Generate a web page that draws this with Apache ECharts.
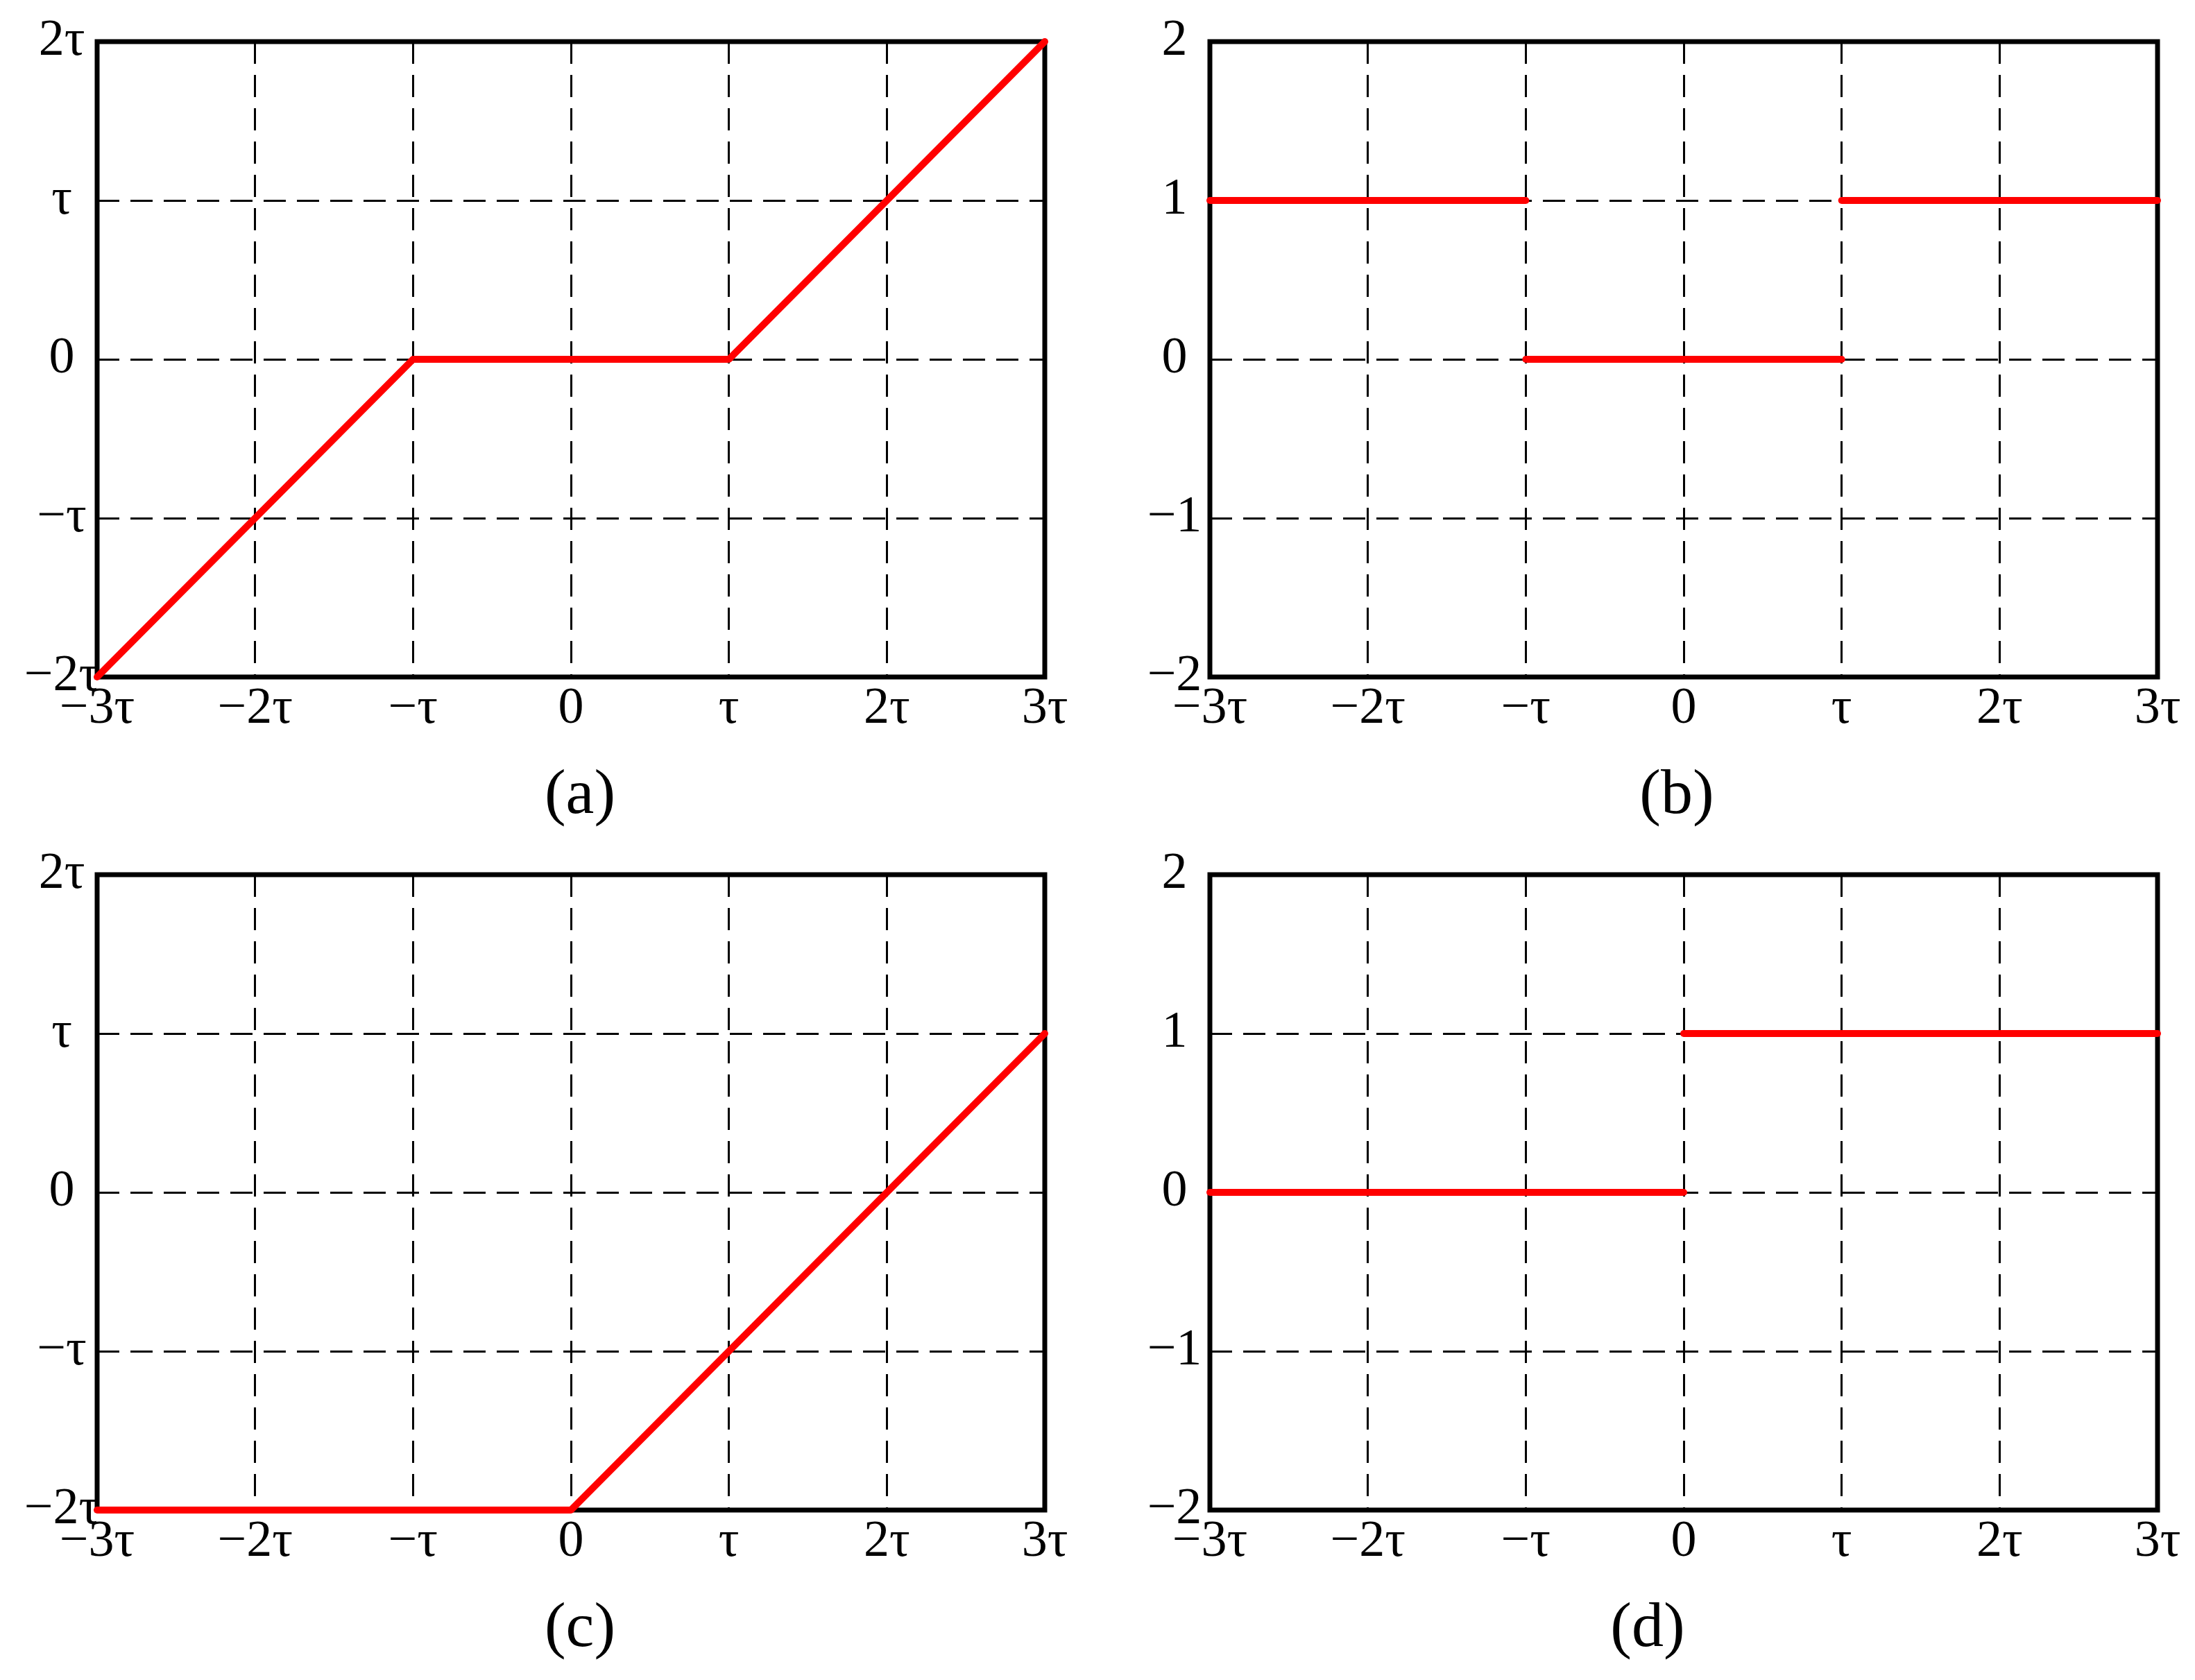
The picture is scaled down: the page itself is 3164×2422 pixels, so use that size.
<!DOCTYPE html>
<html>
<head>
<meta charset="utf-8">
<script src="https://cdn.jsdelivr.net/npm/echarts@6/dist/echarts.min.js"></script>
<style>
	html, body { margin: 0; padding: 0; background: #fff; }
	#chart { width: 3164px; height: 2422px; }
</style>
</head>
<body>
<div id="chart"></div>
<script>
	// tick labels (x in units of tau)
	var xTicks = ['\u22123\u03c4', '\u22122\u03c4', '\u2212\u03c4', '0', '\u03c4', '2\u03c4', '3\u03c4'];
	var yTicksTau = ['\u22122\u03c4', '\u2212\u03c4', '0', '\u03c4', '2\u03c4'];
	var yTicksNum = ['\u22122', '\u22121', '0', '1', '2'];
	var panelNames = ['(a)', '(b)', '(c)', '(d)'];

	// curves, [x, y] in units of tau (b, d are plain numbers on y)
	var curveA = [[-3, -2], [-1, 0], [1, 0], [3, 2]];
	var segmentsB = [
		[[-3, 1], [-1, 1]],
		[[-1, 0], [1, 0]],
		[[1, 1], [3, 1]]
	];
	var curveC = [[-3, -2], [0, -2], [3, 1]];
	var segmentsD = [
		[[-3, 0], [0, 0]],
		[[0, 1], [3, 1]]
	];

	var FONT = 'Liberation Serif';
	var gridPos = [
		{ left: 140, top: 60 },
		{ left: 1744, top: 60 },
		{ left: 140, top: 1261 },
		{ left: 1744, top: 1261 }
	];
	var labelPos = [[836, 1148], [2417, 1148], [836, 2349], [2375, 2349]];

	var myChart = echarts.init(document.getElementById('chart'));

	var grids = [], xAxes = [], yAxes = [], series = [], graphics = [];

	var splitStyle = {
		show: true,
		lineStyle: { color: '#000', width: 3, type: [32, 16] }
	};

	gridPos.forEach(function(p, i) {
		grids.push({
			left: p.left, top: p.top, width: 1366, height: 916,
			show: true, borderColor: '#000', borderWidth: 7
		});
		xAxes.push({
			type: 'value', gridIndex: i, min: -3, max: 3, interval: 1,
			axisLine: { show: false }, axisTick: { show: false },
			splitLine: splitStyle,
			axisLabel: {
				margin: 10, fontFamily: FONT, fontSize: 74, color: '#000',
				formatter: function(v) { return xTicks[Math.round(v) + 3]; }
			}
		});
		var yLabels = (i % 2 === 0) ? yTicksTau : yTicksNum;
		yAxes.push({
			type: 'value', gridIndex: i, min: -2, max: 2, interval: 1,
			axisLine: { show: false }, axisTick: { show: false },
			splitLine: splitStyle,
			axisLabel: {
				margin: 51, align: 'center', fontFamily: FONT, fontSize: 74, color: '#000',
				formatter: function(v) { return yLabels[Math.round(v) + 2]; }
			}
		});
		graphics.push({
			type: 'text', x: labelPos[i][0], y: labelPos[i][1],
			style: {
				text: panelNames[i], fill: '#000',
				font: '92px "' + FONT + '"',
				align: 'center', verticalAlign: 'middle'
			}
		});
	});

	function addLine(idx, data) {
		series.push({
			type: 'line', xAxisIndex: idx, yAxisIndex: idx,
			data: data, symbol: 'none', silent: true, z: 5,
			lineStyle: { color: '#ff0000', width: 10, cap: 'round', join: 'round' }
		});
	}

	addLine(0, curveA);
	segmentsB.forEach(function(s) { addLine(1, s); });
	addLine(2, curveC);
	segmentsD.forEach(function(s) { addLine(3, s); });

	myChart.setOption({
		backgroundColor: '#fff',
		animation: false,
		grid: grids,
		xAxis: xAxes,
		yAxis: yAxes,
		series: series,
		graphic: graphics
	});
</script>
</body>
</html>
